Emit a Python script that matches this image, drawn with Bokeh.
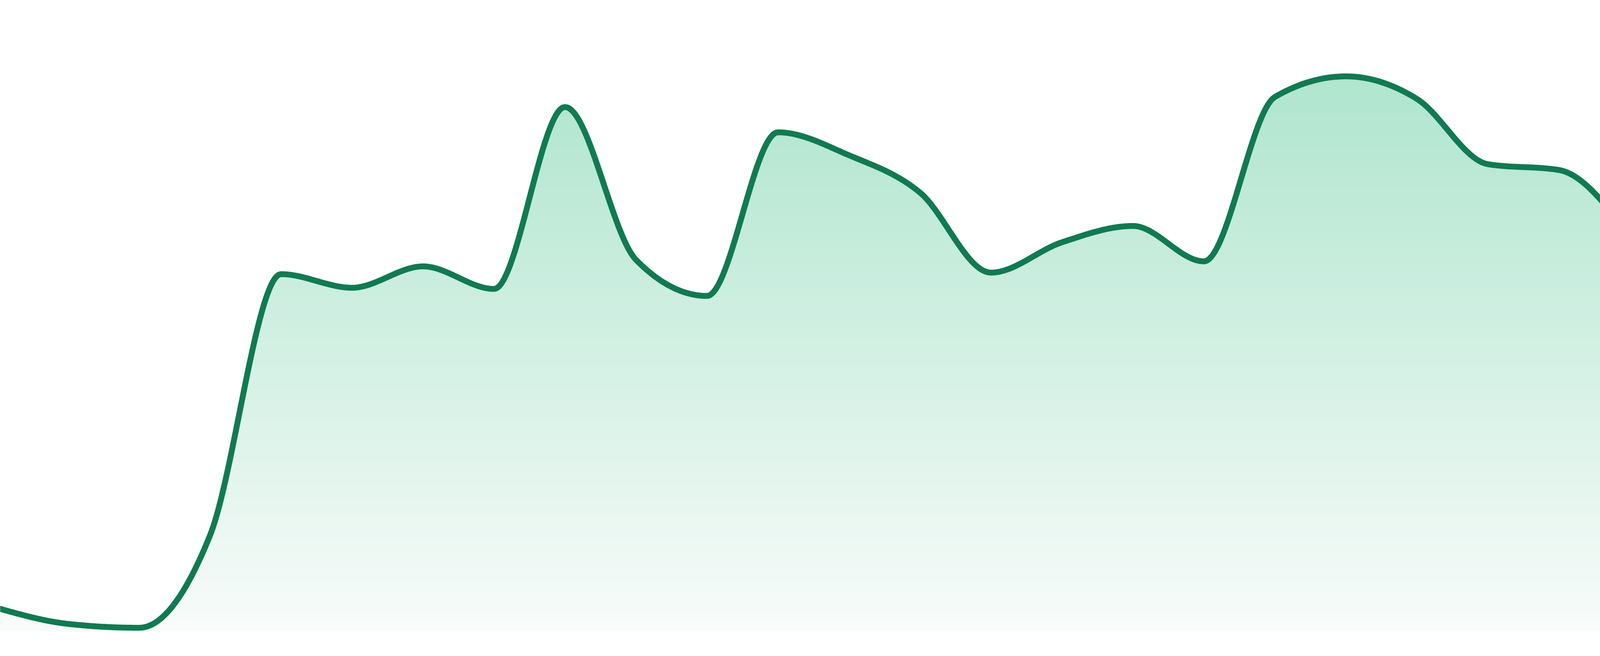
import numpy as np
from bokeh.plotting import figure
from bokeh.models import Range1d
from bokeh.embed import file_html
from bokeh.resources import INLINE

# ---- data ----
values = [6.0, 1.9, 0.9, 24.7, 91.9, 88.4, 93.9, 88.1, 134.9, 95.6, 86.3, 128.4,
          122.5, 112.9, 92.3, 100.1, 104.3, 95.2, 137.5, 142.8, 137.0, 120.2, 118.7, 101.6]
positions = list(range(len(values)))

# ---- style ----
LINE_COLOR = "#117a51"
TOP_RGB = (175, 229, 206)
BOTTOM_RGB = (248, 251, 250)
W, H = 4164, 1656


def monotone_x(xs, ys, samples=48):
    """d3.curveMonotoneX: cubic Bezier segments with Fritsch-Carlson tangents."""
    x = np.asarray(xs, float)
    y = np.asarray(ys, float)
    n = len(x)
    h = np.diff(x)
    s = np.diff(y) / h
    sgn = lambda v: -1.0 if v < 0 else 1.0
    t = np.zeros(n)
    for i in range(1, n - 1):
        h0, h1, s0, s1 = h[i - 1], h[i], s[i - 1], s[i]
        p = (s0 * h1 + s1 * h0) / (h0 + h1)
        t[i] = (sgn(s0) + sgn(s1)) * min(abs(s0), abs(s1), 0.5 * abs(p))
    t[0] = (3 * s[0] - t[1]) / 2
    t[-1] = (3 * s[-1] - t[-2]) / 2
    u = np.linspace(0, 1, samples)
    ox, oy = [], []
    for i in range(n - 1):
        dx = (x[i + 1] - x[i]) / 3
        P = [(x[i], y[i]), (x[i] + dx, y[i] + dx * t[i]),
             (x[i + 1] - dx, y[i + 1] - dx * t[i + 1]), (x[i + 1], y[i + 1])]
        b = [(1 - u) ** 3, 3 * (1 - u) ** 2 * u, 3 * (1 - u) * u ** 2, u ** 3]
        bx = sum(b[k] * P[k][0] for k in range(4))
        by = sum(b[k] * P[k][1] for k in range(4))
        if i > 0:
            bx, by = bx[1:], by[1:]
        ox.extend(bx)
        oy.extend(by)
    return np.array(ox), np.array(oy)


cx, cy = monotone_x(positions, values)
ymax = float(cy.max())

p = figure(width=W, height=H, output_backend="svg", toolbar_location=None,
           x_range=Range1d(0.044, 22.956), y_range=Range1d(-4.0, 162.4),
           min_border=0)
p.axis.visible = False
p.grid.visible = False
p.outline_line_color = None
p.background_fill_color = "white"
p.border_fill_color = "white"

# vertical gradient under the curve: overlapping areas from the baseline,
# tallest first, each one tinted with the colour of its top level
NB = 110
for k in range(NB, 0, -1):
    level = ymax * k / NB
    frac = (k - 0.5) / NB
    col = tuple(int(round(BOTTOM_RGB[c] + (TOP_RGB[c] - BOTTOM_RGB[c]) * frac)) for c in range(3))
    p.varea(x=cx, y1=0, y2=np.minimum(cy, level),
            fill_color="#%02x%02x%02x" % col, fill_alpha=1.0)

# the line
p.line(cx, cy, line_color=LINE_COLOR, line_width=15, line_join="round", line_cap="round")

open("out.html", "w").write(file_html(p, INLINE))
